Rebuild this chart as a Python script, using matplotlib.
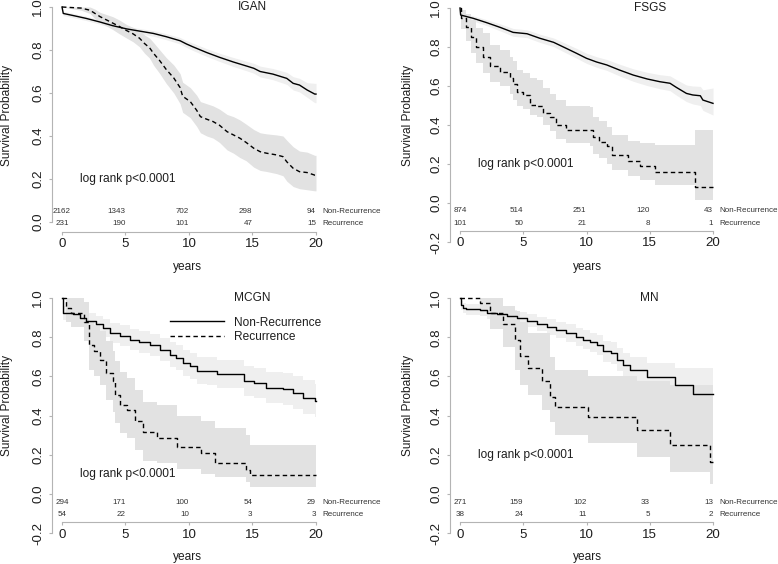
import matplotlib
matplotlib.use('Agg')
import matplotlib.pyplot as plt
from matplotlib.lines import Line2D

plt.rcParams['font.family'] = ['Liberation Sans', 'DejaVu Sans']

# ---------------- data ----------------
PANELS = ['IGAN', 'FSGS', 'MCGN', 'MN']
RISK_TIMES = [0, 5, 10, 15, 20]
X_TICKS = [0, 5, 10, 15, 20]
X_TICK_LABELS = ['0', '5', '10', '15', '20']
Y_TICKS_IGAN = [0.0, 0.2, 0.4, 0.6, 0.8, 1.0]
Y_TICK_LABELS_IGAN = ['0.0', '0.2', '0.4', '0.6', '0.8', '1.0']
Y_TICKS_OTHER = [-0.2, 0.0, 0.2, 0.4, 0.6, 0.8, 1.0]
Y_TICK_LABELS_OTHER = ['-0.2', '0.0', '0.2', '0.4', '0.6', '0.8', '1.0']
GROUPS = ['Non-Recurrence', 'Recurrence']

# IGAN
IGAN_NR_T = [0, 0.1, 0.9, 1.9, 3.0, 4.0, 5.1, 6.1, 7.2, 8.2, 9.3, 9.8, 10.3, 11.4, 12.4, 13.5, 14.5, 15.1, 15.6, 16.6, 17.7, 18.2, 18.7, 19.3, 19.9, 20]
IGAN_NR_S = [1.0, 0.97, 0.96, 0.947, 0.93, 0.913, 0.898, 0.888, 0.877, 0.862, 0.843, 0.828, 0.815, 0.788, 0.766, 0.744, 0.726, 0.715, 0.70, 0.688, 0.668, 0.645, 0.637, 0.614, 0.595, 0.595]
IGAN_NR_HI = [1.0, 0.98, 0.97, 0.957, 0.94, 0.924, 0.91, 0.90, 0.89, 0.876, 0.858, 0.844, 0.832, 0.806, 0.785, 0.765, 0.748, 0.738, 0.725, 0.714, 0.696, 0.676, 0.668, 0.648, 0.645, 0.645]
IGAN_NR_LO = [1.0, 0.96, 0.95, 0.937, 0.92, 0.902, 0.886, 0.876, 0.864, 0.848, 0.828, 0.812, 0.798, 0.77, 0.747, 0.723, 0.704, 0.692, 0.675, 0.662, 0.64, 0.614, 0.605, 0.58, 0.555, 0.555]
IGAN_R_T = [0, 1.5, 2.2, 2.6, 3.0, 3.5, 4.0, 4.5, 5.1, 5.6, 6.1, 6.5, 6.9, 7.2, 7.7, 8.2, 8.8, 9.3, 9.5, 10.1, 10.6, 10.9, 11.4, 11.9, 12.4, 13.0, 13.5, 14.0, 14.5, 15.1, 15.6, 16.1, 16.9, 17.4, 17.7, 18.2, 18.7, 19.3, 19.9, 20]
IGAN_R_S = [1.0, 0.995, 0.985, 0.97, 0.955, 0.94, 0.925, 0.91, 0.89, 0.875, 0.855, 0.83, 0.81, 0.785, 0.75, 0.71, 0.67, 0.625, 0.585, 0.56, 0.52, 0.49, 0.478, 0.467, 0.45, 0.42, 0.405, 0.39, 0.37, 0.343, 0.327, 0.32, 0.312, 0.304, 0.28, 0.25, 0.234, 0.23, 0.218, 0.218]
IGAN_R_HI = [1.0, 1.0, 1.0, 0.99, 0.975, 0.965, 0.955, 0.94, 0.918, 0.905, 0.89, 0.87, 0.855, 0.835, 0.80, 0.765, 0.73, 0.69, 0.65, 0.625, 0.59, 0.56, 0.55, 0.54, 0.525, 0.50, 0.49, 0.475, 0.455, 0.43, 0.415, 0.41, 0.405, 0.40, 0.38, 0.35, 0.33, 0.325, 0.31, 0.31]
IGAN_R_LO = [1.0, 0.985, 0.97, 0.945, 0.93, 0.912, 0.895, 0.876, 0.855, 0.838, 0.815, 0.785, 0.762, 0.73, 0.69, 0.645, 0.60, 0.55, 0.51, 0.485, 0.445, 0.415, 0.40, 0.39, 0.37, 0.335, 0.32, 0.30, 0.285, 0.255, 0.24, 0.235, 0.225, 0.215, 0.19, 0.165, 0.155, 0.15, 0.145, 0.145]
IGAN_RISK_NR = [2162, 1343, 702, 298, 94]
IGAN_RISK_R = [231, 190, 101, 47, 15]

# FSGS
FSGS_NR_T = [0, 0.05, 1.05, 2.1, 3.2, 4.2, 5.3, 6.3, 7.4, 8.4, 9.2, 10.0, 10.8, 11.6, 12.6, 13.7, 14.8, 15.8, 16.6, 17.1, 17.9, 18.4, 19.0, 19.2, 20]
FSGS_NR_S = [1.0, 0.964, 0.947, 0.925, 0.90, 0.875, 0.868, 0.845, 0.824, 0.793, 0.768, 0.742, 0.723, 0.708, 0.682, 0.656, 0.636, 0.622, 0.614, 0.593, 0.562, 0.554, 0.55, 0.528, 0.511]
FSGS_NR_HI = [1.0, 0.975, 0.96, 0.94, 0.918, 0.895, 0.888, 0.866, 0.846, 0.817, 0.793, 0.768, 0.75, 0.736, 0.712, 0.688, 0.67, 0.658, 0.652, 0.633, 0.605, 0.60, 0.598, 0.58, 0.59]
FSGS_NR_LO = [1.0, 0.952, 0.933, 0.91, 0.882, 0.855, 0.848, 0.824, 0.802, 0.769, 0.743, 0.716, 0.696, 0.68, 0.652, 0.624, 0.602, 0.586, 0.576, 0.553, 0.52, 0.508, 0.50, 0.475, 0.451]
FSGS_R_T = [0, 0.1, 0.5, 0.9, 1.3, 1.85, 2.4, 3.16, 3.95, 4.2, 4.5, 5.0, 5.5, 6.06, 6.6, 7.1, 7.6, 8.4, 10.3, 10.5, 11.0, 11.6, 12.0, 13.3, 14.2, 15.4, 18.6, 20]
FSGS_R_S = [1.0, 0.95, 0.90, 0.85, 0.80, 0.75, 0.70, 0.674, 0.64, 0.61, 0.57, 0.554, 0.50, 0.497, 0.46, 0.44, 0.40, 0.374, 0.374, 0.34, 0.315, 0.29, 0.246, 0.217, 0.19, 0.16, 0.08, 0.08]
FSGS_R_HI = [1.0, 0.99, 0.97, 0.94, 0.90, 0.87, 0.81, 0.785, 0.75, 0.73, 0.68, 0.665, 0.64, 0.63, 0.59, 0.56, 0.53, 0.50, 0.49, 0.44, 0.42, 0.39, 0.35, 0.32, 0.306, 0.30, 0.374, 0.374]
FSGS_R_LO = [1.0, 0.89, 0.83, 0.77, 0.72, 0.665, 0.62, 0.60, 0.56, 0.53, 0.50, 0.48, 0.45, 0.44, 0.40, 0.37, 0.33, 0.31, 0.29, 0.25, 0.23, 0.20, 0.17, 0.14, 0.12, 0.09, 0.015, 0.015]
FSGS_RISK_NR = [874, 514, 251, 120, 43]
FSGS_RISK_R = [101, 50, 21, 8, 1]

# MCGN
MCGN_NR_T = [0, 0.1, 0.9, 1.4, 1.9, 2.7, 3.25, 3.8, 4.6, 5.35, 6.1, 6.9, 7.7, 8.5, 9.0, 9.55, 10.1, 10.6, 11.4, 12.2, 14.3, 15.1, 16.1, 17.4, 18.2, 19.0, 19.9, 20]
MCGN_NR_S = [1.0, 0.925, 0.92, 0.90, 0.882, 0.865, 0.848, 0.822, 0.808, 0.788, 0.774, 0.759, 0.737, 0.711, 0.694, 0.668, 0.651, 0.629, 0.626, 0.612, 0.578, 0.566, 0.54, 0.535, 0.515, 0.489, 0.472, 0.472]
MCGN_NR_HI = [1.0, 0.96, 0.955, 0.94, 0.925, 0.91, 0.895, 0.872, 0.86, 0.84, 0.83, 0.815, 0.795, 0.773, 0.758, 0.735, 0.72, 0.70, 0.698, 0.686, 0.655, 0.645, 0.62, 0.615, 0.60, 0.58, 0.56, 0.56]
MCGN_NR_LO = [1.0, 0.89, 0.885, 0.86, 0.84, 0.82, 0.80, 0.772, 0.756, 0.735, 0.718, 0.702, 0.678, 0.65, 0.632, 0.603, 0.585, 0.56, 0.556, 0.54, 0.502, 0.49, 0.462, 0.455, 0.432, 0.41, 0.395, 0.395]
MCGN_R_T = [0, 0.35, 0.7, 1.75, 2.1, 2.5, 3.0, 3.5, 4.0, 4.2, 4.6, 5.1, 5.75, 6.4, 7.45, 9.05, 10.95, 12.05, 14.5, 14.8, 20]
MCGN_R_S = [1.0, 0.95, 0.925, 0.88, 0.76, 0.728, 0.685, 0.617, 0.574, 0.506, 0.455, 0.429, 0.37, 0.318, 0.285, 0.241, 0.207, 0.156, 0.121, 0.096, 0.096]
MCGN_R_HI = [1.0, 1.0, 1.0, 0.98, 0.88, 0.86, 0.83, 0.78, 0.73, 0.68, 0.62, 0.59, 0.53, 0.47, 0.455, 0.40, 0.37, 0.335, 0.30, 0.25, 0.25]
MCGN_R_LO = [1.0, 0.88, 0.85, 0.78, 0.634, 0.60, 0.557, 0.48, 0.42, 0.36, 0.31, 0.284, 0.224, 0.17, 0.156, 0.13, 0.104, 0.087, 0.06, 0.036, 0.036]
MCGN_RISK_NR = [294, 171, 100, 54, 29]
MCGN_RISK_R = [54, 22, 10, 3, 3]

# MN
MN_NR_T = [0, 0.05, 0.26, 0.5, 1.6, 2.1, 2.9, 3.7, 4.5, 5.3, 6.06, 6.85, 7.6, 8.4, 9.2, 9.75, 10.3, 10.8, 11.3, 11.9, 12.4, 12.9, 13.4, 14.76, 17.0, 18.4, 20]
MN_NR_S = [1.0, 0.962, 0.95, 0.942, 0.937, 0.925, 0.916, 0.908, 0.896, 0.885, 0.868, 0.853, 0.839, 0.822, 0.80, 0.788, 0.774, 0.762, 0.728, 0.72, 0.685, 0.66, 0.634, 0.595, 0.557, 0.51, 0.51]
MN_NR_HI = [1.0, 0.985, 0.975, 0.97, 0.965, 0.955, 0.948, 0.94, 0.93, 0.92, 0.905, 0.893, 0.88, 0.865, 0.845, 0.835, 0.822, 0.812, 0.78, 0.775, 0.745, 0.72, 0.70, 0.67, 0.645, 0.645, 0.645]
MN_NR_LO = [1.0, 0.94, 0.925, 0.915, 0.908, 0.895, 0.884, 0.875, 0.862, 0.85, 0.83, 0.813, 0.797, 0.778, 0.755, 0.74, 0.725, 0.71, 0.675, 0.665, 0.625, 0.595, 0.565, 0.52, 0.47, 0.39, 0.39]
MN_R_T = [0, 1.58, 2.37, 3.4, 4.35, 4.74, 5.4, 6.45, 7.1, 7.5, 10.15, 14.0, 16.6, 19.76, 20]
MN_R_S = [1.0, 0.976, 0.925, 0.865, 0.788, 0.703, 0.643, 0.574, 0.497, 0.446, 0.395, 0.326, 0.25, 0.164, 0.164]
MN_R_HI = [1.0, 1.0, 1.0, 0.96, 0.933, 0.88, 0.82, 0.82, 0.70, 0.634, 0.603, 0.574, 0.557, 0.557, 0.557]
MN_R_LO = [1.0, 0.93, 0.84, 0.75, 0.634, 0.557, 0.506, 0.43, 0.369, 0.30, 0.26, 0.19, 0.113, 0.053, 0.053]
MN_RISK_NR = [271, 159, 102, 33, 13]
MN_RISK_R = [38, 24, 11, 5, 2]

DATA = {
    'IGAN': (IGAN_NR_T, IGAN_NR_S, IGAN_NR_LO, IGAN_NR_HI, IGAN_R_T, IGAN_R_S, IGAN_R_LO, IGAN_R_HI, IGAN_RISK_NR, IGAN_RISK_R),
    'FSGS': (FSGS_NR_T, FSGS_NR_S, FSGS_NR_LO, FSGS_NR_HI, FSGS_R_T, FSGS_R_S, FSGS_R_LO, FSGS_R_HI, FSGS_RISK_NR, FSGS_RISK_R),
    'MCGN': (MCGN_NR_T, MCGN_NR_S, MCGN_NR_LO, MCGN_NR_HI, MCGN_R_T, MCGN_R_S, MCGN_R_LO, MCGN_R_HI, MCGN_RISK_NR, MCGN_RISK_R),
    'MN': (MN_NR_T, MN_NR_S, MN_NR_LO, MN_NR_HI, MN_R_T, MN_R_S, MN_R_LO, MN_R_HI, MN_RISK_NR, MN_RISK_R),
}

# ---------------- layout (pixels) ----------------
W, H, DPI = 778, 564, 100
GEOM = {
    #        x0   x20  py(0) py(1) ybot   xaxis_y  risk rows      ylabel px   xlabel px  logrank_y  nr_style  r_style
    'IGAN': (62, 316, 222, 7, -0.045, None, (0.051, -0.005), (7, 115), (187, 267), 0.2, 'linear', 'linear'),
    'FSGS': (460, 713, 203, 8, -0.21, -0.145, (-0.041, -0.103), (408, 115), (587, 267), 0.2, 'linear', 'steps'),
    'MCGN': (62, 316, 494, 298, -0.21, -0.145, (-0.041, -0.103), (7, 405), (187, 557), 0.1, 'steps', 'steps'),
    'MN': (460, 713, 494, 298, -0.21, -0.145, (-0.041, -0.103), (408, 405), (587, 557), 0.2, 'steps', 'steps'),
}

AXIS_GREY = '#b4b4b4'
TEXT_COL = '#1e1e1e'
NR_BAND = '#efefef'
R_BAND = '#e2e2e2'
FS_MAIN = 8.6
FS_TICK = 9.6
FS_RISK = 5.8
DASH = (3.2, 2.3)

fig = plt.figure(figsize=(W / DPI, H / DPI), dpi=DPI)

for name in PANELS:
    (x0, x20, py0, py1, ybot, xaxis_y, risk_rows, ylab, xlab, lr_y, nr_style, r_style) = GEOM[name]
    nt, ns, nlo, nhi, rt, rs, rlo, rhi, risk_nr, risk_r = DATA[name]
    sx = (x20 - x0) / 20.0
    sy = (py0 - py1) / 1.0
    xmin, xmax = -0.8, 20.8
    ytop = 1.04
    left_px = x0 + xmin * sx
    right_px = x0 + xmax * sx
    top_py = py0 - ytop * sy
    bot_py = py0 - ybot * sy
    ax = fig.add_axes([left_px / W, 1 - bot_py / H, (right_px - left_px) / W, (bot_py - top_py) / H])
    ax.set_xlim(xmin, xmax)
    ax.set_ylim(ybot, ytop)
    ax.patch.set_alpha(0)

    def draw(t, s, lo, hi, style, band, ls):
        if style == 'steps':
            ax.fill_between(t, lo, hi, step='post', color=band, lw=0, zorder=1 if band == NR_BAND else 2)
            line, = ax.plot(t, s, drawstyle='steps-post', color='black', lw=1.0, zorder=4)
        else:
            ax.fill_between(t, lo, hi, color=band, lw=0, zorder=1 if band == NR_BAND else 2)
            line, = ax.plot(t, s, color='black', lw=1.0, zorder=4)
        if ls == 'dashed':
            line.set_dashes(DASH)
        return line

    draw(nt, ns, nlo, nhi, nr_style, NR_BAND, 'solid')
    draw(rt, rs, rlo, rhi, r_style, R_BAND, 'dashed')

    # axes styling (R base graphics look)
    for sp in ['top', 'right']:
        ax.spines[sp].set_visible(False)
    ax.spines['left'].set_color(AXIS_GREY)
    ax.spines['bottom'].set_color(AXIS_GREY)
    ax.spines['left'].set_linewidth(0.8)
    ax.spines['bottom'].set_linewidth(0.8)
    ax.spines['bottom'].set_bounds(0, 20)
    if xaxis_y is not None:
        ax.spines['bottom'].set_position(('data', xaxis_y))
        ax.spines['left'].set_bounds(-0.2, 1.0)
        ax.set_yticks(Y_TICKS_OTHER)
        ax.set_yticklabels(Y_TICK_LABELS_OTHER)
    else:
        ax.spines['left'].set_bounds(0.0, 1.0)
        ax.set_yticks(Y_TICKS_IGAN)
        ax.set_yticklabels(Y_TICK_LABELS_IGAN)
    ax.set_xticks(X_TICKS)
    ax.set_xticklabels(X_TICK_LABELS)
    ax.tick_params(axis='both', colors=AXIS_GREY, length=2.4, width=0.8, labelcolor=TEXT_COL, labelsize=FS_TICK)
    ax.tick_params(axis='x', pad=2.0)
    ax.tick_params(axis='y', pad=3.0)
    for lab in ax.get_yticklabels():
        lab.set_rotation(90)
        lab.set_va('center')

    # title & annotation
    ax.text(15, 1.0, name, ha='center', va='center', fontsize=FS_MAIN, color=TEXT_COL)
    ax.text(1.4, lr_y, 'log rank p<0.0001', ha='left', va='center', fontsize=FS_MAIN, color=TEXT_COL)

    # number at risk table
    for row_y, counts, grp in zip(risk_rows, [risk_nr, risk_r], GROUPS):
        for i, (tt, c) in enumerate(zip(RISK_TIMES, counts)):
            ax.text(tt, row_y, str(c), ha='center' if i == 0 else 'right', va='center',
                    fontsize=FS_RISK, color='#333333', clip_on=False)
        ax.text(20.5, row_y, grp, ha='left', va='center', fontsize=FS_RISK, color='#333333', clip_on=False)

    fig.text(ylab[0] / W, 1 - ylab[1] / H, 'Survival Probability', rotation=90,
             ha='center', va='center', fontsize=FS_MAIN, color=TEXT_COL)
    fig.text(xlab[0] / W, 1 - xlab[1] / H, 'years', ha='center', va='center', fontsize=FS_MAIN, color=TEXT_COL)

    if name == 'MCGN':
        h1 = Line2D([], [], color='black', lw=1.0)
        h2 = Line2D([], [], color='black', lw=1.0)
        h2.set_dashes(DASH)
        ax.legend([h1, h2], GROUPS, loc='upper left', bbox_to_anchor=(8.5, 0.905),
                  bbox_transform=ax.transData, frameon=False, fontsize=FS_MAIN,
                  handlelength=4.5, handletextpad=0.85, labelspacing=0.2,
                  borderpad=0, borderaxespad=0, labelcolor=TEXT_COL)

fig.savefig('out.png', dpi=DPI)
